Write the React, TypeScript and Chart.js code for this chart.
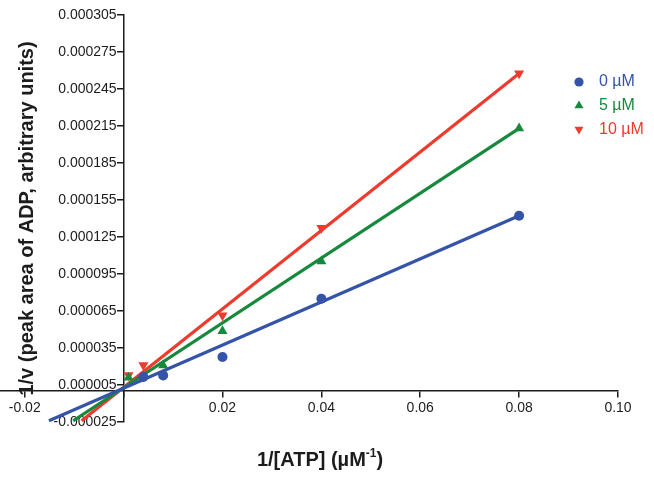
import React, { useEffect, useRef } from "react";
import { Chart, registerables } from "chart.js";

Chart.register(...registerables);

// ---- data ----
const seriesLabels = ["0 µM", "5 µM", "10 µM"];
const seriesColors = ["#3553a8", "#17893d", "#ee3b2e"];

const x0 = [0.004, 0.008, 0.02, 0.04, 0.08];
const y0 = [0.0000115, 0.0000128, 0.0000277, 0.0000749, 0.0001422];
const x5 = [0.001, 0.008, 0.02, 0.04, 0.08];
const y5 = [0.000011, 0.000021, 0.0000487, 0.0001053, 0.0002131];
const x10 = [0.001, 0.004, 0.02, 0.04, 0.08];
const y10 = [0.0000129, 0.000021, 0.0000614, 0.0001323, 0.0002576];

// fitted lines (end points)
const fitX0 = [-0.0151, 0.08];
const fitY0 = [-0.000024, 0.0001422];
const fitX5 = [-0.0102, 0.08];
const fitY5 = [-0.000024, 0.0002131];
const fitX10 = [-0.0085, 0.08];
const fitY10 = [-0.000024, 0.0002576];

const xTicks = [-0.02, 0, 0.02, 0.04, 0.06, 0.08, 0.1];
const xTickLabels = ["-0.02", "", "0.02", "0.04", "0.06", "0.08", "0.10"];
const yTicks = [
  -0.000025, 0.000005, 0.000035, 0.000065, 0.000095, 0.000125, 0.000155,
  0.000185, 0.000215, 0.000245, 0.000275, 0.000305,
];
const yTickLabels = [
  "-0.000025", "0.000005", "0.000035", "0.000065", "0.000095", "0.000125",
  "0.000155", "0.000185", "0.000215", "0.000245", "0.000275", "0.000305",
];

const xTitleMain = "1/[ATP] (µM";
const xTitleSup = "-1";
const xTitleEnd = ")";
const yTitle = "1/v (peak area of ADP, arbitrary units)";

const FONT = '"Liberation Sans", Arial, Helvetica, sans-serif';
const AXIS_COLOR = "#1c1c1c";

const zip = (xs: number[], ys: number[]) => xs.map((x, i) => ({ x, y: ys[i] }));

const pointStyles = ["circle", "triangle", "triangle"];
const pointRotations = [0, 0, 180];
const pointRadii = [5, 5.8, 5.8];
const legendRadii = [4.6, 5.2, 5.2];

function drawMarker(ctx: CanvasRenderingContext2D, style: string, rotation: number, r: number, x: number, y: number) {
  ctx.beginPath();
  if (style === "circle") {
    ctx.arc(x, y, r, 0, Math.PI * 2);
  } else {
    let rad = (rotation * Math.PI) / 180;
    ctx.moveTo(x + Math.sin(rad) * r, y - Math.cos(rad) * r);
    rad += (2 * Math.PI) / 3;
    ctx.lineTo(x + Math.sin(rad) * r, y - Math.cos(rad) * r);
    rad += (2 * Math.PI) / 3;
    ctx.lineTo(x + Math.sin(rad) * r, y - Math.cos(rad) * r);
    ctx.closePath();
  }
  ctx.fill();
}

const overlayPlugin = {
  id: "overlay",
  beforeDraw(chart: any) {
    // move y tick labels left of the tick marks (axis sits at x = 0)
    const ys = chart.scales.y;
    if (ys && ys.getLabelItems) {
      const items = ys.getLabelItems(chart.chartArea);
      const shift = ys.options.grid.tickLength + ys.options.ticks.padding;
      items.forEach((it: any) => {
        if (!it._shifted) {
          it.options.translation[0] -= shift;
          it._shifted = true;
        }
      });
    }
  },
  afterDraw(chart: any) {
    const ctx: CanvasRenderingContext2D = chart.ctx;
    const area = chart.chartArea;
    ctx.save();
    // y axis title
    ctx.save();
    ctx.translate(27, (area.top + area.bottom) / 2);
    ctx.rotate(-Math.PI / 2);
    ctx.font = `bold 20px ${FONT}`;
    ctx.fillStyle = AXIS_COLOR;
    ctx.textAlign = "center";
    ctx.textBaseline = "middle";
    ctx.fillText(yTitle, 0, 0);
    ctx.restore();

    // x axis title with superscript
    ctx.font = `bold 20px ${FONT}`;
    const wMain = ctx.measureText(xTitleMain).width;
    const wEnd = ctx.measureText(xTitleEnd).width;
    ctx.font = `bold 12px ${FONT}`;
    const wSup = ctx.measureText(xTitleSup).width;
    const total = wMain + wSup + wEnd;
    const cx = 320;
    const ty = 460;
    let sx = cx - total / 2;
    ctx.fillStyle = AXIS_COLOR;
    ctx.textAlign = "left";
    ctx.textBaseline = "middle";
    ctx.font = `bold 20px ${FONT}`;
    ctx.fillText(xTitleMain, sx, ty);
    sx += wMain;
    ctx.font = `bold 12px ${FONT}`;
    ctx.fillText(xTitleSup, sx, ty - 6);
    sx += wSup;
    ctx.font = `bold 20px ${FONT}`;
    ctx.fillText(xTitleEnd, sx, ty);

    // legend
    const lx = area.right - 39;
    const ly0 = area.top + 67;
    ctx.font = `16px ${FONT}`;
    seriesLabels.forEach((lab, i) => {
      const y = ly0 + i * 23.7;
      ctx.fillStyle = seriesColors[i];
      drawMarker(ctx, pointStyles[i], pointRotations[i], legendRadii[i], lx, y);
      ctx.fillText(lab, lx + 20, y);
    });
    ctx.restore();
  },
};

export default function App() {
  const ref = useRef<HTMLCanvasElement>(null);
  useEffect(() => {
    document.body.style.margin = "0";
    const pointSets = [zip(x0, y0), zip(x5, y5), zip(x10, y10)];
    const fitSets = [zip(fitX0, fitY0), zip(fitX5, fitY5), zip(fitX10, fitY10)];
    const datasets: any[] = [];
    pointSets.forEach((data, i) => {
      datasets.push({
        label: seriesLabels[i],
        data,
        showLine: false,
        pointStyle: pointStyles[i],
        rotation: pointRotations[i],
        pointRadius: pointRadii[i],
        pointBorderWidth: 0,
        backgroundColor: seriesColors[i],
        borderColor: seriesColors[i],
      });
    });
    fitSets.forEach((data, i) => {
      datasets.push({
        label: seriesLabels[i] + " fit",
        data,
        showLine: true,
        pointRadius: 0,
        borderWidth: 3.2,
        borderColor: seriesColors[i],
        backgroundColor: seriesColors[i],
      });
    });

    const chart = new Chart(ref.current!, {
      type: "scatter",
      data: { datasets },
      options: {
        animation: false,
        responsive: true,
        maintainAspectRatio: false,
        layout: { autoPadding: false, padding: { left: 0, right: 36, top: 15, bottom: 56 } },
        plugins: {
          legend: { display: false },
          tooltip: { enabled: false },
          title: { display: false },
        },
        scales: {
          x: {
            type: "linear",
            position: { y: 0 } as any,
            min: -0.025,
            max: 0.1,
            afterBuildTicks: (scale: any) => {
              scale.ticks = xTicks.map((v) => ({ value: v }));
            },
            ticks: {
              autoSkip: false,
              maxRotation: 0,
              padding: 3,
              color: AXIS_COLOR,
              font: { family: FONT, size: 14 },
              callback: (_v: any, i: number) => xTickLabels[i],
            },
            grid: { display: true, drawOnChartArea: false, drawTicks: true, tickLength: 6, color: AXIS_COLOR, lineWidth: 1.5 },
            border: { display: true, color: AXIS_COLOR, width: 1.5 },
          },
          y: {
            type: "linear",
            position: { x: 0 } as any,
            min: -0.000025,
            max: 0.000305,
            afterBuildTicks: (scale: any) => {
              scale.ticks = yTicks.map((v) => ({ value: v }));
            },
            ticks: {
              autoSkip: false,
              padding: 1,
              color: AXIS_COLOR,
              font: { family: FONT, size: 14 },
              callback: (_v: any, i: number) => yTickLabels[i],
            },
            grid: { display: true, drawOnChartArea: false, drawTicks: true, tickLength: 6, color: AXIS_COLOR, lineWidth: 1.5 },
            border: { display: true, color: AXIS_COLOR, width: 1.5 },
          },
        },
      },
      plugins: [overlayPlugin],
    } as any);
    return () => chart.destroy();
  }, []);
  return (
    <div style={{ width: 654, height: 478, position: "relative" }}>
      <canvas ref={ref} />
    </div>
  );
}
